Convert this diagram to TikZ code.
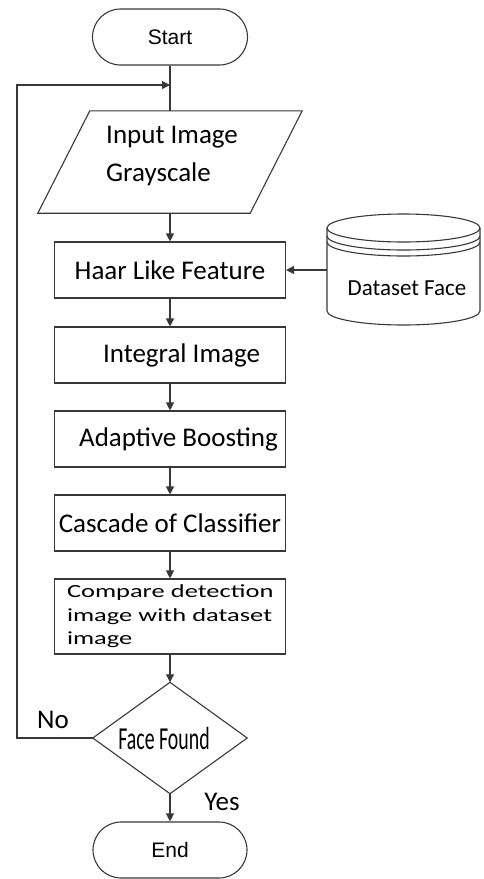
\documentclass[tikz,border=0pt]{standalone}
\usepackage{fontspec}
\setmainfont{Carlito}
\newfontfamily\arialf{Liberation Sans}
\newfontfamily\widef{Carlito}[FakeStretch=1.43]
\usepackage{graphicx}
\usetikzlibrary{arrows.meta,calc}
\begin{document}
\begin{tikzpicture}[x=1pt,y=-1pt,
 line/.style={draw=black!78, line width=1.1pt},
 arr/.style={line, -{Triangle[length=8pt,width=8pt]}},
 term/.style={line, rounded corners=28pt, minimum width=155pt, minimum height=56pt, inner sep=0pt, font=\arialf\fontsize{21}{25}\selectfont},
 proc/.style={line, minimum width=231pt, minimum height=56pt, inner sep=0pt, font=\fontsize{27}{32}\selectfont},
 lbl/.style={inner sep=0pt, font=\fontsize{27}{32}\selectfont}]
\useasboundingbox (0,0) rectangle (483,879);
% terminals
\node[term] (start) at (170,37) {Start};
\node[term, minimum width=154pt] (end) at (170,850) {End};
% input parallelogram
\node[minimum width=212pt, minimum height=102pt, inner sep=0pt] (input) at (170,162) {};
\draw[line] ($(input.north west)+(26,0)$) -- ($(input.north east)+(26,0)$) -- ($(input.south east)+(-26,0)$) -- ($(input.south west)+(-26,0)$) -- cycle;
\node[inner sep=0pt, anchor=west, align=left, font=\fontsize{27}{38}\selectfont] (inputtext) at (106,156) {Input Image\\Grayscale};
% process boxes
\node[proc] (haar) at (170,270) {Haar Like Feature};
\node[proc] (integral) at (170,355) {\hspace*{23pt}Integral Image};
\node[proc] (adaptive) at (170,439) {\hspace*{17pt}Adaptive Boosting};
\node[proc] (cascade) at (170,523) {Cascade of Classifier};
\node[line, minimum width=231pt, minimum height=75pt, inner sep=0pt, text width=210pt, align=left, font=\widef\fontsize{18.5}{23.5}\selectfont] (compare) at (170,616.5) {\hspace*{2pt}Compare detection\\\hspace*{2pt}image with dataset\\\hspace*{2pt}image};
% decision
\node[minimum width=154pt, minimum height=111pt, inner sep=0pt] (dec) at (170,738) {\hspace*{-12pt}\scalebox{0.62}[1]{\fontsize{32}{38}\selectfont Face Found}};
\draw[line] (dec.north) -- (dec.east) -- (dec.south) -- (dec.west) -- cycle;
% dataset cylinder
\node[minimum width=153pt, minimum height=112pt, inner sep=0pt] (data) at (403.5,270) {};
\draw[line] (403.5,228) ellipse[x radius=76.5pt, y radius=14pt];
\draw[line] (327,228) -- (327,311) arc[start angle=180, end angle=360, x radius=76.5pt, y radius=14pt] -- (480,228);
\draw[line] (327,236) arc[start angle=180, end angle=360, x radius=76.5pt, y radius=14pt];
\draw[line] (327,242) arc[start angle=180, end angle=360, x radius=76.5pt, y radius=14pt];
\node[inner sep=0pt, font=\fontsize{23}{28}\selectfont] (datatext) at (407,288) {Dataset Face};
% connectors
\coordinate (join) at (170,85);
\coordinate (loopx) at (17,738);
\draw[line] (start.south) -- (input.north);
\draw[arr] (input.south) -- (haar.north);
\draw[arr] (haar) -- (integral);
\draw[arr] (integral) -- (adaptive);
\draw[arr] (adaptive) -- (cascade);
\draw[arr] (cascade) -- (compare);
\draw[arr] (compare) -- (dec.north);
\draw[arr] (dec.south) -- (end);
\draw[arr] (data.west) -- (data.west -| haar.east);
\draw[arr] (dec.west) -- (loopx) |- (join);
\node[lbl] (no) at (53,720) {No};
\node[lbl] (yes) at (222,802) {Yes};
\end{tikzpicture}
\end{document}
